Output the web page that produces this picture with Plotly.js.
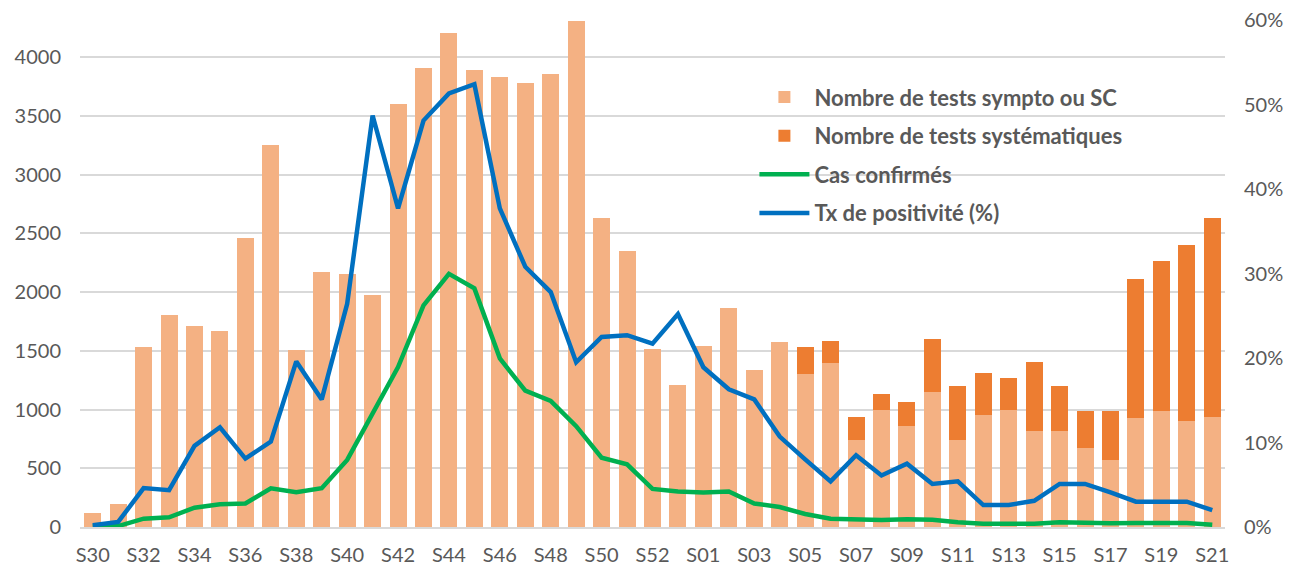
<!DOCTYPE html>
<html>
<head>
<meta charset="utf-8">
<script src="https://cdn.plot.ly/plotly-3.0.1.min.js"></script>
<style>html,body{margin:0;padding:0;background:#fff;}#chart{width:1299px;height:569px;}</style>
</head>
<body>
<div id="chart"></div>
<script>
const weeks = ["S30","S31","S32","S33","S34","S35","S36","S37","S38","S39","S40","S41","S42","S43","S44","S45","S46","S47","S48","S49","S50","S51","S52","S53",
  "S01","S02","S03","S04","S05","S06","S07","S08","S09","S10","S11","S12","S13","S14","S15","S16","S17","S18","S19","S20","S21"];
const testsSympto = [115,195,1530,1805,1712,1672,2460,3250,1508,2168,2154,1972,3602,3910,4204,3893,3830,3775,3858,4306,2630,2349,1515,1207,
  1540,1862,1337,1577,1306,1395,744,1000,863,1151,738,951,994,821,815,673,571,926,985,898,938];
const testsSystematiques = [0,0,0,0,0,0,0,0,0,0,0,0,0,0,0,0,0,0,0,0,0,0,0,0,
  0,0,0,0,227,192,189,134,200,452,458,356,275,587,384,316,417,1187,1280,1503,1689];
const casConfirmes = [5,8,71,83,164,194,200,330,296,330,571,966,1361,1886,2154,2031,1435,1160,1074,858,590,534,324,302,
  293,302,200,170,111,71,65,59,65,62,40,28,28,28,40,31,31,34,31,34,19];
const txPositivite = [0.002,0.006,0.046,0.0435,0.096,0.118,0.081,0.101,0.196,0.151,0.264,0.487,0.377,0.481,0.513,0.524,0.377,0.308,0.278,0.195,0.225,0.227,0.217,0.252,
  0.189,0.163,0.151,0.107,0.080,0.054,0.085,0.061,0.075,0.051,0.054,0.026,0.026,0.031,0.051,0.051,0.041,0.030,0.030,0.030,0.020];
const seriesNames = ["Nombre de tests sympto ou SC","Nombre de tests systématiques","Cas confirmés","Tx de positivité (%)"];

const tickWeeks = weeks.filter((w,i)=>i%2===0);
const txtColor = "#595959";
const fam = "Lato, 'Open Sans', sans-serif";

const traces = [
  {type:"bar", x:weeks, y:testsSympto, name:seriesNames[0], marker:{color:"#F4B183"}, legendgroup:"a"},
  {type:"bar", x:weeks, y:testsSystematiques, name:seriesNames[1], marker:{color:"#ED7D31"}, legendgroup:"b"},
  {type:"scatter", mode:"lines", x:weeks, y:casConfirmes, name:seriesNames[2], line:{color:"#00B050", width:4.5}, legendgroup:"c"},
  {type:"scatter", mode:"lines", x:weeks, y:txPositivite, name:seriesNames[3], yaxis:"y2", line:{color:"#0070C0", width:4.5}, legendgroup:"d"}
];

const layout = {
  width:1299, height:569,
  margin:{l:80, r:74, t:20, b:42},
  paper_bgcolor:"#fff", plot_bgcolor:"#fff",
  barmode:"stack", bargap:0.33,
  font:{family:fam, color:txtColor, size:20},
  showlegend:true,
  legend:{x:0.589, y:0.889, xanchor:"left", yanchor:"top", bgcolor:"rgba(0,0,0,0)",
    font:{family:fam, size:22, color:txtColor, weight:"bold"}, traceorder:"grouped", tracegroupgap:7, itemwidth:50},
  xaxis:{type:"category", tickmode:"array", tickvals:tickWeeks, ticktext:tickWeeks, showgrid:false,
    showline:true, linecolor:"#D9D9D9", linewidth:1.5, ticks:"", tickfont:{size:20, color:txtColor},
    ticklabelstandoff:9, range:[-0.5, weeks.length-0.5]},
  yaxis:{range:[0,4315], dtick:500, tick0:0, showgrid:true, gridcolor:"#D9D9D9", gridwidth:1.5, zeroline:false,
    showline:false, ticks:"", tickfont:{size:20, color:txtColor}, ticklabelstandoff:18},
  yaxis2:{overlaying:"y", side:"right", range:[0,0.6], dtick:0.1, tickformat:".0%", showgrid:false, zeroline:false,
    ticks:"", tickfont:{size:20, color:txtColor}, ticklabelstandoff:18}
};

Plotly.newPlot("chart", traces, layout, {displayModeBar:false, responsive:false});
</script>
</body>
</html>
